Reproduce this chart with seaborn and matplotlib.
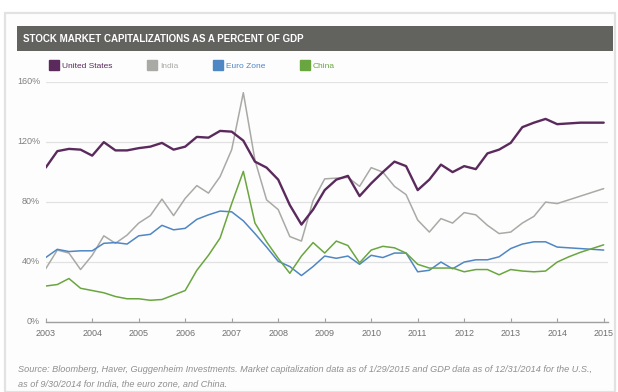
import numpy as np
import pandas as pd
import matplotlib
matplotlib.use("Agg")
import matplotlib.pyplot as plt
from matplotlib.patches import Rectangle
from matplotlib.lines import Line2D
from matplotlib.transforms import ScaledTranslation
import seaborn as sns

# Quarterly observations, 2003 Q1 through 2015 Q1 (percent of GDP)
quarters = [2003 + i / 4 for i in range(49)]

united_states = [103, 114, 115.5, 115, 111, 120, 114.5, 114.5, 116, 117, 119.5, 115,
                 117, 123.5, 123, 127.5, 127, 121, 107, 103, 95, 78, 65, 75,
                 88, 95, 97.5, 84, 92.5, 100, 107, 104, 88, 95, 105, 100,
                 104, 102, 112.5, 115, 119.5, 130, 133, 135.5, 132, 132.5, 133, 133, 133]

india = [35.5, 48, 46, 35, 44.5, 57.5, 52.5, 58, 66, 71, 82, 71,
         82.5, 91, 86, 97, 115, 153, 108, 81.5, 75, 57, 54, 81,
         95.5, 96, 96.5, 90.5, 103, 100, 90.5, 85, 68, 60, 69, 66,
         73, 71.5, 64.5, 59, 60, 66, 70.5, 80, 79, 81.5, 84, 86.5, 89]

euro_zone = [43, 48.5, 47, 47.5, 47.5, 52.5, 53, 52, 57.5, 58.5, 64.5, 61.5,
             62.5, 68.5, 71.5, 74, 73.5, 67.5, 59, 50, 40.5, 37, 31, 37,
             44, 42.5, 44, 38.5, 44.5, 43, 46, 46, 33.5, 34.5, 40, 35.5,
             40, 41.5, 41.5, 43.5, 49, 52, 53.5, 53.5, 50, 49.5, 49, 48.5, 48]

china = [24, 25, 29, 22.5, 21, 19.5, 17, 15.5, 15.5, 14.5, 15, 18,
         21, 34.5, 44.5, 56, 79, 100.5, 66, 53.5, 42.5, 32.5, 44, 53,
         46, 54, 51, 39.5, 48, 50.5, 49.5, 46, 38.5, 36, 36, 36,
         33.5, 35, 35, 31.5, 35, 34, 33.5, 34, 40, 43.5, 46.5, 49, 51.5]

series_names = ["United States", "India", "Euro Zone", "China"]
series_colors = ["#5b2a5d", "#a9a9a6", "#4f86c4", "#6aa640"]
year_ticks = list(range(2003, 2016))
pct_ticks = [0, 40, 80, 120, 160]

title_text = "STOCK MARKET CAPITALIZATIONS AS A PERCENT OF GDP"
source_lines = [
    "Source: Bloomberg, Haver, Guggenheim Investments. Market capitalization data as of "
    "1/29/2015 and GDP data as of 12/31/2014 for the U.S.,",
    "as of 9/30/2014 for India, the euro zone, and China.",
]

df = pd.DataFrame({
    "date": quarters * 4,
    "value": united_states + india + euro_zone + china,
    "series": sum([[n] * len(quarters) for n in series_names], []),
})

sns.set_style("white")
plt.rcParams["font.family"] = ["Liberation Sans Narrow", "Liberation Sans", "DejaVu Sans"]

W, H = 618, 392
fig = plt.figure(figsize=(W / 100, H / 100), dpi=100)
fig.patch.set_facecolor("white")


def px_box(x0, y0, x1, y1):
    """Convert a pixel box (top-left origin) to figure fraction rect."""
    return [x0 / W, (H - y1) / H, (x1 - x0) / W, (y1 - y0) / H]


# outer frame
frame = Rectangle((5 / W, 0), (615 - 5) / W, (H - 13) / H, transform=fig.transFigure,
                  facecolor="#fdfdfd", edgecolor="#e2e2e2", linewidth=1.6, zorder=-2)
fig.patches.append(frame)

# title bar
bar = Rectangle((17 / W, (H - 51) / H), (613 - 17) / W, 25 / H, transform=fig.transFigure,
                facecolor="#62635f", edgecolor="none", zorder=-1)
fig.patches.append(bar)
fig.text(23 / W, (H - 38.5) / H, title_text, color="white", fontsize=7, fontweight="bold",
         va="center", ha="left")

ax = fig.add_axes(px_box(45.7, 82.2, 608, 322))
ax.set_facecolor("none")
ax.set_zorder(2)

sns.lineplot(data=df, x="date", y="value", hue="series", hue_order=series_names,
             palette=series_colors, ax=ax, legend=False, linewidth=1.1)
for line, name in zip(ax.lines, series_names):
    if name == "United States":
        line.set_linewidth(1.7)
        line.set_zorder(5)
    else:
        line.set_zorder(3)

ax.set_xlim(2003, 2003 + (608 - 45.7) / 46.5)
ax.set_ylim(0, 160)
ax.set_xticks(year_ticks)
ax.set_xticklabels([str(y) for y in year_ticks])
ax.set_yticks(pct_ticks)
ax.set_yticklabels([f"{v}%" for v in pct_ticks])
ax.set_xlabel("")
ax.set_ylabel("")

ax.grid(axis="y", color="#e2e2e2", linewidth=0.9)
ax.grid(axis="x", visible=False)
for side in ["top", "right", "left"]:
    ax.spines[side].set_visible(False)
ax.spines["bottom"].set_color("#a0a0a0")
ax.spines["bottom"].set_linewidth(1.0)
ax.spines["bottom"].set_zorder(6)

ax.tick_params(axis="x", direction="in", length=3, width=0.8, color="#a0a0a0",
               labelsize=6.5, labelcolor="#707070", pad=5, bottom=True)
ax.tick_params(axis="y", length=0, labelsize=6.5, labelcolor="#808080", pad=4)
for lbl in ax.get_yticklabels():
    lbl.set_transform(lbl.get_transform() + ScaledTranslation(0, 2 / 100, fig.dpi_scale_trans))

# legend with square swatches and text in series colours
handles = [Line2D([], [], marker="s", linestyle="none", markersize=7,
                  markerfacecolor=c, markeredgecolor=c) for c in series_colors]
leg = fig.legend(handles, series_names, ncol=4, loc="center left",
                 bbox_to_anchor=(49.5 / W, (H - 66) / H), frameon=False, fontsize=6,
                 handlelength=1.0, handletextpad=0.5, columnspacing=4.22,
                 borderpad=0, borderaxespad=0)
for txt, c in zip(leg.get_texts(), series_colors):
    txt.set_color(c)

for y, line_text in zip([369.5, 384.5], source_lines):
    fig.text(18 / W, (H - y) / H, line_text, fontsize=6.6, style="italic",
             color="#8f8f8f", ha="left", va="center")

fig.savefig("out.png", dpi=100)
